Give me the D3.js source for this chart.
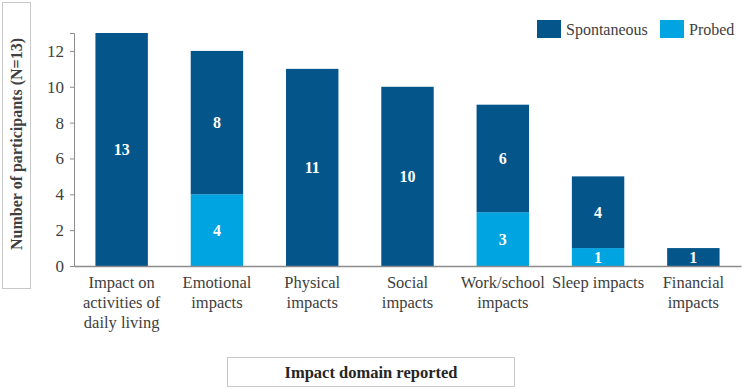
<!DOCTYPE html>
<html>
<head>
<meta charset="utf-8">
<script src="https://cdn.jsdelivr.net/npm/d3@7"></script>
<style>
  body { margin: 0; background: #fff; }
</style>
</head>
<body>
<div id="chart"></div>
<script>
// data
var categories = ["Impact on activities of daily living", "Emotional impacts", "Physical impacts",
    "Social impacts", "Work/school impacts", "Sleep impacts", "Financial impacts"];
var categoryLines = [
    ["Impact on", "activities of", "daily living"],
    ["Emotional", "impacts"],
    ["Physical", "impacts"],
    ["Social", "impacts"],
    ["Work/school", "impacts"],
    ["Sleep impacts"],
    ["Financial", "impacts"]
];
var probed = [0, 4, 0, 0, 3, 1, 0];
var spontaneous = [13, 8, 11, 10, 6, 4, 1];
var yTicks = [0, 2, 4, 6, 8, 10, 12];
var seriesNames = ["Spontaneous", "Probed"];
var colors = { "Spontaneous": "#03558A", "Probed": "#00A4E1" };

var serif = "'Liberation Serif', 'Times New Roman', serif";

function renderChart() {
    var width = 744, height = 389;
    var svg = d3.select("#chart").append("svg")
        .attr("width", width)
        .attr("height", height)
        .style("font-family", serif);

    var mLeft = 74, mRight = 741, mTop = 33, mBottom = 266;

    var x = d3.scaleBand().domain(categories).range([mLeft, mRight]).paddingInner(0.45).paddingOuter(0.225);
    var y = d3.scaleLinear().domain([0, 13]).range([mBottom, mTop]);

    // stack: probed at the bottom, spontaneous on top
    var rows = categories.map(function (c, i) {
        return { cat: c, Probed: probed[i], Spontaneous: spontaneous[i] };
    });
    var stack = d3.stack().keys(["Probed", "Spontaneous"])(rows);

    var layers = svg.selectAll(".layer")
        .data(stack)
        .enter().append("g")
        .attr("fill", function (d) { return colors[d.key]; });

    layers.selectAll("rect")
        .data(function (d) { return d; })
        .enter().append("rect")
        .attr("x", function (d) { return x(d.data.cat); })
        .attr("width", x.bandwidth())
        .attr("y", function (d) { return y(d[1]); })
        .attr("height", function (d) { return y(d[0]) - y(d[1]); });

    // value labels
    layers.selectAll(".val")
        .data(function (d) { return d.filter(function (s) { return s[1] - s[0] > 0; }); })
        .enter().append("text")
        .attr("x", function (d) { return x(d.data.cat) + x.bandwidth() / 2; })
        .attr("y", function (d) { return (y(d[0]) + y(d[1])) / 2; })
        .attr("dy", "0.35em")
        .attr("text-anchor", "middle")
        .attr("fill", "#fff")
        .style("font-family", serif)
        .style("font-weight", "bold")
        .style("font-size", "16px")
        .text(function (d) { return d[1] - d[0]; });

    // y axis
    var yAxis = svg.append("g")
        .attr("transform", "translate(" + mLeft + ",0)")
        .call(d3.axisLeft(y).tickValues(yTicks).tickSize(4).tickPadding(6));
    yAxis.select(".domain").attr("stroke", "#8c8c8c");
    yAxis.selectAll(".tick line").attr("stroke", "#8c8c8c");
    yAxis.selectAll(".tick text")
        .attr("fill", "#404040")
        .style("font-family", serif)
        .style("font-size", "17px");

    // x axis
    var xAxis = svg.append("g")
        .attr("transform", "translate(0," + mBottom + ")")
        .call(d3.axisBottom(x).tickSize(0).tickFormat(""));
    xAxis.select(".domain").attr("stroke", "#8c8c8c").attr("stroke-width", 1.5);

    xAxis.selectAll(".tick").each(function (d, i) {
        var t = d3.select(this).append("text")
            .attr("text-anchor", "middle")
            .attr("fill", "#404040")
            .style("font-family", serif)
            .style("font-size", "16.5px");
        categoryLines[i].forEach(function (line, j) {
            t.append("tspan").attr("x", 0).attr("y", 22 + j * 20).text(line);
        });
    });

    // y title box
    svg.append("rect")
        .attr("x", 2.5).attr("y", 2.5).attr("width", 28).attr("height", 286)
        .attr("fill", "none").attr("stroke", "#c8c8c8");
    svg.append("text")
        .attr("transform", "translate(22,144) rotate(-90)")
        .attr("text-anchor", "middle")
        .attr("fill", "#404040")
        .style("font-family", serif)
        .style("font-weight", "bold")
        .style("font-size", "16px")
        .text("Number of participants (N=13)");

    // x title box
    svg.append("rect")
        .attr("x", 227.5).attr("y", 357.5).attr("width", 287).attr("height", 29)
        .attr("fill", "none").attr("stroke", "#c8c8c8");
    svg.append("text")
        .attr("x", 371).attr("y", 378)
        .attr("text-anchor", "middle")
        .attr("fill", "#262626")
        .style("font-family", serif)
        .style("font-weight", "bold")
        .style("font-size", "16.5px")
        .text("Impact domain reported");

    // legend
    var legendX = [537, 660];
    var legend = svg.selectAll(".legend")
        .data(seriesNames)
        .enter().append("g")
        .attr("transform", function (d, i) { return "translate(" + legendX[i] + ",20)"; });
    legend.append("rect")
        .attr("width", 24).attr("height", 18)
        .attr("fill", function (d) { return colors[d]; });
    legend.append("text")
        .attr("x", 29).attr("y", 15)
        .attr("fill", "#404040")
        .style("font-family", serif)
        .style("font-size", "16px")
        .text(function (d) { return d; });
}

renderChart();
</script>
</body>
</html>
